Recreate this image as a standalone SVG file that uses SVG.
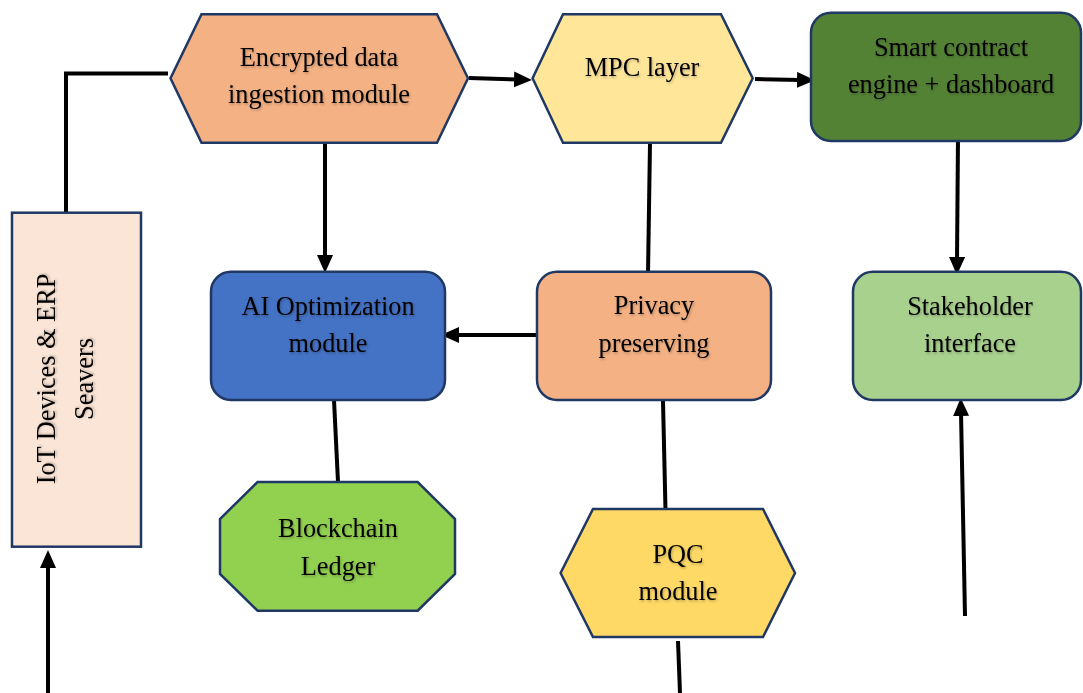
<svg xmlns="http://www.w3.org/2000/svg" width="1083" height="693" viewBox="0 0 1083 693">
<style>
.n{stroke:#203864;stroke-width:2.5}
.t{font-family:"Liberation Serif","Times New Roman",serif;font-size:26.3px;fill:#000;text-anchor:middle;filter:url(#sh)}
.c{stroke:#000;stroke-width:4;fill:none}
</style>
<defs>
<filter id="sh" x="-10%" y="-30%" width="120%" height="160%">
<feDropShadow dx="1" dy="1.5" stdDeviation="0.9" flood-color="#000" flood-opacity="0.25"/>
</filter>
<marker id="ah" markerUnits="userSpaceOnUse" markerWidth="20" markerHeight="18" refX="4" refY="8" orient="auto">
<path d="M0,0 L18,8 L0,16 z" fill="#000"/>
</marker>
</defs>
<rect width="1083" height="693" fill="#fff"/>
<g id="connectors">
<polyline class="c" points="66,212 66,73.5 168,73.5"/>
<line class="c" x1="469" y1="78" x2="518" y2="79.5" marker-end="url(#ah)"/>
<line class="c" x1="755" y1="79" x2="801" y2="80" marker-end="url(#ah)"/>
<line class="c" x1="325" y1="142" x2="325" y2="259" marker-end="url(#ah)"/>
<line class="c" x1="650" y1="143" x2="648" y2="274"/>
<line class="c" x1="540" y1="335" x2="455" y2="335" marker-end="url(#ah)"/>
<line class="c" x1="958" y1="137" x2="957" y2="261" marker-end="url(#ah)"/>
<line class="c" x1="334" y1="400" x2="338" y2="482"/>
<line class="c" x1="663" y1="401" x2="665.5" y2="510"/>
<line class="c" x1="965" y1="616" x2="961" y2="412" marker-end="url(#ah)"/>
<line class="c" x1="678" y1="641" x2="680" y2="693"/>
<line class="c" x1="48" y1="693" x2="48" y2="564" marker-end="url(#ah)"/>
</g>
<g id="iot">
<rect class="n" x="12" y="212.7" width="129" height="334" fill="#FBE5D6"/>
<text class="t" transform="translate(55,379) rotate(-90)">IoT Devices &amp; ERP</text>
<text class="t" transform="translate(93,379) rotate(-90)">Seavers</text>
</g>
<g id="encrypted">
<polygon class="n" points="201.5,14.3 437,14.3 468,78.3 437,142.7 201.5,142.7 170.5,78.3" fill="#F4B183"/>
<text class="t" x="319" y="66">Encrypted data</text>
<text class="t" x="319" y="103">ingestion module</text>
</g>
<g id="mpc">
<polygon class="n" points="563,14.3 721,14.3 752.7,78.3 721,142.7 563,142.7 532.6,78.3" fill="#FFE699"/>
<text class="t" x="642" y="76">MPC layer</text>
</g>
<g id="smart">
<rect class="n" x="811" y="12.7" width="270" height="128.3" rx="20" fill="#548235"/>
<text class="t" x="951" y="56">Smart contract</text>
<text class="t" x="951" y="93">engine + dashboard</text>
</g>
<g id="ai">
<rect class="n" x="211" y="271.7" width="234" height="128.3" rx="20" fill="#4472C4"/>
<text class="t" x="328" y="315">AI Optimization</text>
<text class="t" x="328" y="352">module</text>
</g>
<g id="privacy">
<rect class="n" x="537" y="271.7" width="234" height="128.3" rx="20" fill="#F4B183"/>
<text class="t" x="654" y="314">Privacy</text>
<text class="t" x="654" y="352">preserving</text>
</g>
<g id="stakeholder">
<rect class="n" x="853" y="271.7" width="228" height="128.3" rx="20" fill="#A9D18E"/>
<text class="t" x="970" y="315">Stakeholder</text>
<text class="t" x="970" y="352">interface</text>
</g>
<g id="blockchain">
<polygon class="n" points="257.6,482 417.7,482 455,519 455,574 417.7,610.7 257.6,610.7 220,574 220,519" fill="#92D050"/>
<text class="t" x="338" y="537">Blockchain</text>
<text class="t" x="338" y="575">Ledger</text>
</g>
<g id="pqc">
<polygon class="n" points="593,509 763,509 795,573 763,637 593,637 560.6,573" fill="#FFD966"/>
<text class="t" x="678" y="563">PQC</text>
<text class="t" x="678" y="600">module</text>
</g>
</svg>
